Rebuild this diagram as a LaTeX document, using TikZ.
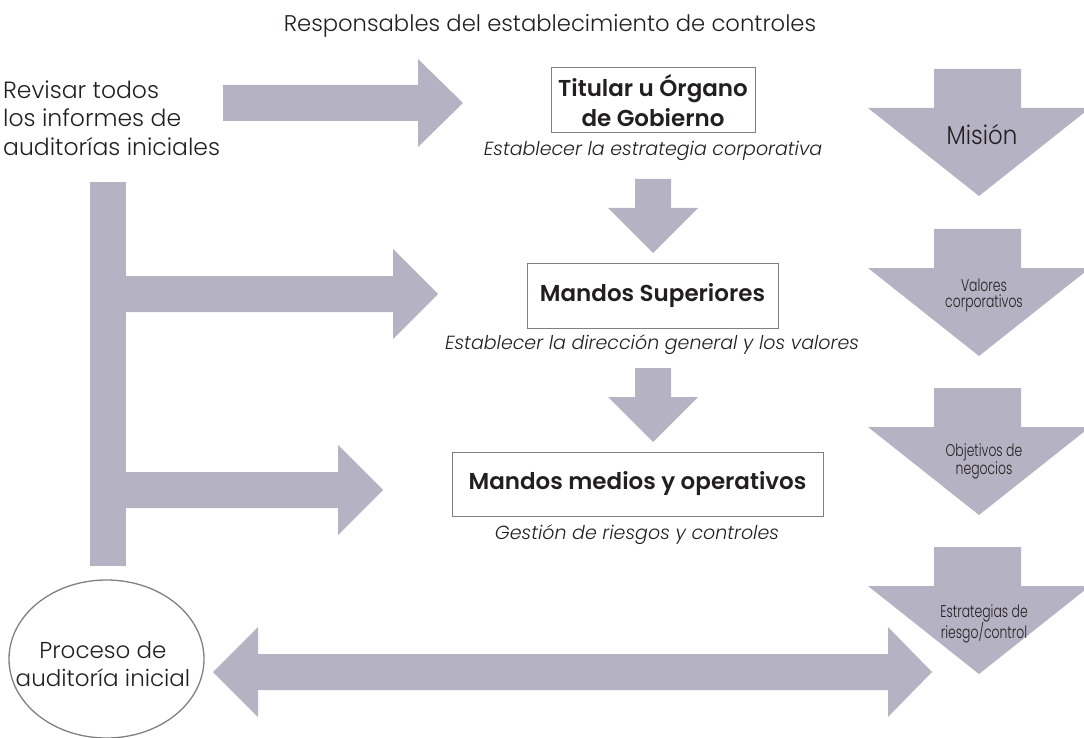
\documentclass[tikz,border=0pt]{standalone}
\usepackage{fontspec}
\setmainfont{Poppins Light}[BoldFont={Poppins SemiBold},ItalicFont={Poppins Light Italic}]
\usetikzlibrary{calc,shapes.geometric}
\definecolor{arrowgray}{RGB}{180,178,195}
\definecolor{boxline}{RGB}{128,128,128}
\definecolor{textdark}{RGB}{35,31,32}

\begin{document}
\begin{tikzpicture}[x=1pt,y=-1pt,
    blockarrow/.style={fill=arrowgray},
    plaintext/.style={text=textdark,inner sep=0pt},
    levelbox/.style={draw=boxline,line width=1pt,text=textdark,inner sep=0pt,align=center,
      font=\bfseries\fontsize{23}{30}\selectfont},
    sublabel/.style={text=textdark,inner sep=0pt,font=\itshape\fontsize{19}{22}\selectfont},
    arrowlabel/.style={text=textdark,inner sep=0pt,align=center}]
    \useasboundingbox (0,0) rectangle (1084,738);
    \clip (0,0) rectangle (1084,738); % keeps the wide arrow heads on the page

    \node[plaintext,font=\fontsize{22.7}{26}\selectfont] (title) at (550,26) {Responsables del establecimiento de controles};

    % left column
    \node[plaintext,align=left,anchor=west,font=\fontsize{23.5}{28.5}\selectfont] (revisar) at (3,118) {Revisar todos\\los informes de\\auditorías iniciales};
    \fill[blockarrow] (223,85) -- (418,85) -- (418,59) -- (463,103) -- (418,147) -- (418,121) -- (223,121) -- cycle;
    \fill[blockarrow] (90,182) rectangle (126,566);
    \fill[blockarrow] (126,276) -- (393,276) -- (393,249) -- (438,294) -- (393,339) -- (393,312) -- (126,312) -- cycle;
    \fill[blockarrow] (126,472) -- (338,472) -- (338,445) -- (383,490) -- (338,535) -- (338,508) -- (126,508) -- cycle;

    % centre column
    \node[levelbox,minimum width=204pt,minimum height=65pt] (titular) at (653,100.5) {Titular u Órgano\\de Gobierno};
    \node[sublabel] (estrategia) at (653,151) {Establecer la estrategia corporativa};
    \fill[blockarrow] (635,179) -- (671,179) -- (671,208) -- (698,208) -- (653,253) -- (608,208) -- (635,208) -- cycle;
    \node[levelbox,minimum width=251pt,minimum height=65pt] (superiores) at (652.5,295.5) {Mandos Superiores};
    \node[sublabel] (direccion) at (652,345) {Establecer la dirección general y los valores};
    \fill[blockarrow] (635,368) -- (671,368) -- (671,397) -- (698,397) -- (653,442) -- (608,397) -- (635,397) -- cycle;
    \node[levelbox,minimum width=371pt,minimum height=64pt] (medios) at (637.5,484) {Mandos medios y operativos};
    \node[sublabel] (gestion) at (637,535) {Gestión de riesgos y controles};

    % right column
    \foreach \ytop in {69,229,388,547}{
        \fill[blockarrow] (934,\ytop) -- (1021,\ytop) -- (1021,\ytop+39) -- (1090,\ytop+39)
            -- (979,\ytop+127) -- (868,\ytop+39) -- (934,\ytop+39) -- cycle;
    }
    \node[arrowlabel,font=\fontsize{26}{30}\selectfont] (mision) at (982,135) {\scalebox{0.88}[1]{Misión}};
    \node[arrowlabel,font=\fontsize{17}{16}\selectfont] (valores) at (984,295) {\scalebox{0.73}[1]{Valores}\\\scalebox{0.73}[1]{corporativos}};
    \node[arrowlabel,font=\fontsize{17}{16}\selectfont] (objetivos) at (984,461) {\scalebox{0.73}[1]{Objetivos de}\\\scalebox{0.73}[1]{negocios}};
    \node[arrowlabel,font=\fontsize{17}{16}\selectfont] (estrategias) at (984,624) {\scalebox{0.73}[1]{Estrategias de}\\\scalebox{0.73}[1]{riesgo/control}};

    % bottom
    \node[draw=boxline,line width=1.3pt,ellipse,minimum width=195pt,minimum height=158pt,inner sep=0pt] (proceso) at (106.5,659) {};
    \node[plaintext,align=center,font=\fontsize{23}{28}\selectfont] (procesotext) at (103,664) {Proceso de\\auditoría inicial};
    \fill[blockarrow] (213,672) -- (258,627) -- (258,654) -- (888,654) -- (888,627) -- (932,672)
        -- (888,717) -- (888,690) -- (258,690) -- (258,717) -- cycle;
\end{tikzpicture}
\end{document}
